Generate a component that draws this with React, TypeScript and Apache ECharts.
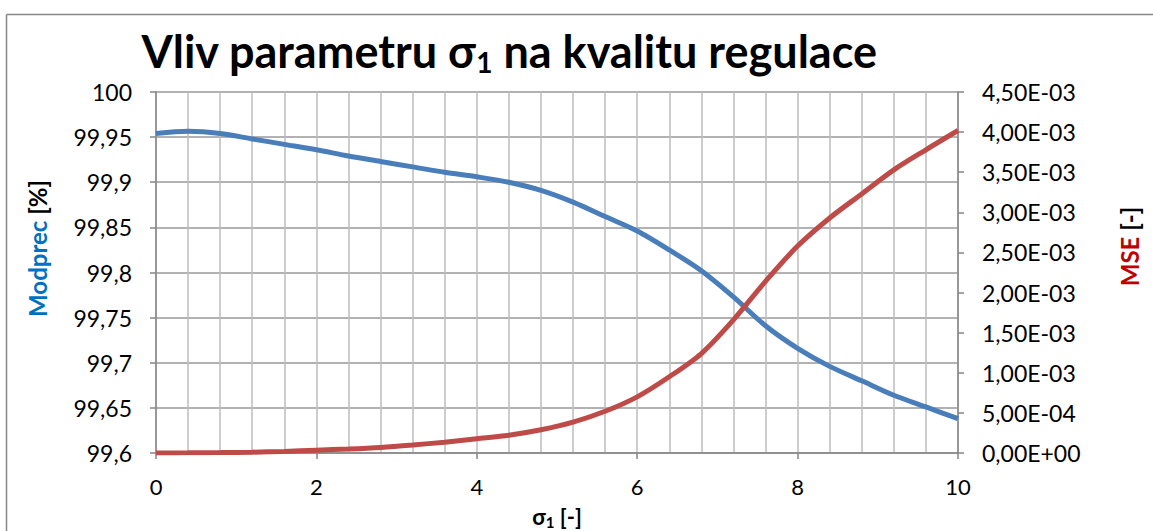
import React, { useEffect, useRef } from "react";
import * as echarts from "echarts";

const sigmaValues = [0, 0.4, 0.8, 1.2, 1.6, 2, 2.4, 2.8, 3.2, 3.6, 4, 4.4, 4.8, 5.2, 5.6, 6, 6.4, 6.8, 7.2, 7.6, 8, 8.4, 8.8, 9.2, 9.6, 10];
const modprecValues = [99.954, 99.9565, 99.954, 99.948, 99.942, 99.936, 99.929, 99.923, 99.917, 99.911, 99.906, 99.9, 99.891, 99.878, 99.862, 99.846, 99.825, 99.802, 99.773, 99.741, 99.716, 99.696, 99.68, 99.664, 99.651, 99.638];
const mseValues = [0, 0.000002, 0.000005, 0.00001, 0.00002, 0.000035, 0.00005, 0.00007, 0.0001, 0.000135, 0.000178, 0.000222, 0.00029, 0.000385, 0.00052, 0.0007, 0.00095, 0.00124, 0.00166, 0.00214, 0.00258, 0.00293, 0.00323, 0.00353, 0.00378, 0.00402];

const FONT = "Lato";

function fmtLeft(v: number): string {
  let s = (Math.round(v * 100) / 100).toFixed(2);
  s = s.replace(/0+$/, "").replace(/\.$/, "");
  return s.replace(".", ",");
}

function fmtSci(v: number): string {
  if (Math.abs(v) < 1e-12) return "0,00E+00";
  let exp = Math.floor(Math.log10(v) + 1e-9);
  let mant = v / Math.pow(10, exp);
  if (mant >= 9.995) {
    mant /= 10;
    exp += 1;
  }
  const sign = exp < 0 ? "-" : "+";
  const e = String(Math.abs(exp)).padStart(2, "0");
  return mant.toFixed(2).replace(".", ",") + "E" + sign + e;
}

export default function App() {
  const ref = useRef<HTMLDivElement>(null);
  useEffect(() => {
    document.body.style.margin = "0";
    document.body.style.overflow = "hidden";
    document.documentElement.style.overflow = "hidden";
    if (!ref.current) return;
    const chart = echarts.init(ref.current, undefined, { renderer: "svg" });
    const modData = sigmaValues.map((x, i) => [x, modprecValues[i]]);
    const mseData = sigmaValues.map((x, i) => [x, mseValues[i]]);
    const axisLineColor = "#868686";
    chart.setOption({
      animation: false,
      backgroundColor: "#ffffff",
      textStyle: { fontFamily: FONT },
      title: {
        text: "{a|Vliv parametru σ}{s|1}{a| na kvalitu regulace}",
        left: 504,
        textAlign: "center",
        top: 21,
        textStyle: {
          rich: {
            a: { fontFamily: FONT, fontWeight: "bold", fontSize: 45, color: "#000", lineHeight: 50 },
            s: { fontFamily: FONT, fontWeight: "bold", fontSize: 28, color: "#000", lineHeight: 18, verticalAlign: "bottom" },
          },
        },
      },
      graphic: [
        {
          type: "line",
          shape: { x1: 6.5, y1: 14.5, x2: 1153, y2: 14.5 },
          style: { stroke: axisLineColor, lineWidth: 1.5 },
          silent: true,
        },
        {
          type: "line",
          shape: { x1: 6.5, y1: 14.5, x2: 6.5, y2: 531 },
          style: { stroke: axisLineColor, lineWidth: 1.5 },
          silent: true,
        },
      ],
      grid: { left: 156, right: 195, top: 92, bottom: 78, containLabel: false, outerBoundsMode: "none" },
      xAxis: {
        type: "value",
        min: 0,
        max: 10,
        interval: 2,
        axisLine: { show: true, onZero: false, lineStyle: { color: axisLineColor, width: 1.5 } },
        axisTick: { show: true, length: 6, lineStyle: { color: axisLineColor, width: 1.5 } },
        axisLabel: { fontFamily: FONT, fontSize: 22, color: "#000", margin: 22 },
        splitLine: { show: true, lineStyle: { color: "#bdbdbd", width: 1.5 } },
        minorTick: { show: false, splitNumber: 5 },
        minorSplitLine: { show: true, lineStyle: { color: "#bdbdbd", width: 1.5 } },
        name: "{a|σ}{s|1}{a| [-]}",
        nameLocation: "middle",
        nameGap: 50,
        nameTextStyle: {
          fontWeight: "bold",
          rich: {
            a: { fontFamily: FONT, fontWeight: "bold", fontSize: 22, color: "#000", lineHeight: 26 },
            s: { fontFamily: FONT, fontWeight: "bold", fontSize: 15, color: "#000", lineHeight: 14, verticalAlign: "bottom" },
          },
        },
      },
      yAxis: [
        {
          type: "value",
          min: 99.6,
          max: 100,
          interval: 0.05,
          position: "left",
          axisLine: { show: true, lineStyle: { color: axisLineColor, width: 1.5 } },
          axisTick: { show: true, length: 6, lineStyle: { color: axisLineColor, width: 1.5 } },
          axisLabel: { fontFamily: FONT, fontSize: 23, color: "#000", margin: 24, formatter: fmtLeft },
          splitLine: { show: true, lineStyle: { color: "#999999", width: 1.5 } },
          name: "{b|Modprec} {k|[%]}",
          nameLocation: "middle",
          nameRotate: 90,
          nameGap: 107,
          nameTextStyle: {
            fontWeight: "bold",
            fontSize: 24,
            padding: [0, 0, 0, 48],
            rich: {
              b: { fontFamily: FONT, fontWeight: "bold", fontSize: 24, color: "#0070C0" },
              k: { fontFamily: FONT, fontWeight: "bold", fontSize: 24, color: "#000" },
            },
          },
        },
        {
          type: "value",
          min: 0,
          max: 0.0045,
          interval: 0.0005,
          position: "right",
          axisLine: { show: true, lineStyle: { color: axisLineColor, width: 1.5 } },
          axisTick: { show: true, length: 6, lineStyle: { color: axisLineColor, width: 1.5 } },
          axisLabel: { fontFamily: FONT, fontSize: 23, color: "#000", margin: 24, formatter: fmtSci },
          splitLine: { show: false },
          name: "{r|MSE} {k|[-]}",
          nameLocation: "middle",
          nameRotate: 90,
          nameGap: 159,
          nameTextStyle: {
            fontWeight: "bold",
            fontSize: 24,
            padding: [0, 0, 0, 52],
            rich: {
              r: { fontFamily: FONT, fontWeight: "bold", fontSize: 24, color: "#C00000" },
              k: { fontFamily: FONT, fontWeight: "bold", fontSize: 24, color: "#000" },
            },
          },
        },
      ],
      series: [
        {
          name: "Modprec",
          type: "line",
          yAxisIndex: 0,
          data: modData,
          smooth: 0.3,
          showSymbol: false,
          lineStyle: { color: "#4A7EBB", width: 5 },
          itemStyle: { color: "#4A7EBB" },
        },
        {
          name: "MSE",
          type: "line",
          yAxisIndex: 1,
          data: mseData,
          smooth: 0.3,
          showSymbol: false,
          lineStyle: { color: "#BE4B48", width: 5 },
          itemStyle: { color: "#BE4B48" },
        },
      ],
    });
    return () => chart.dispose();
  }, []);
  return <div ref={ref} style={{ width: 1153, height: 531 }} />;
}
